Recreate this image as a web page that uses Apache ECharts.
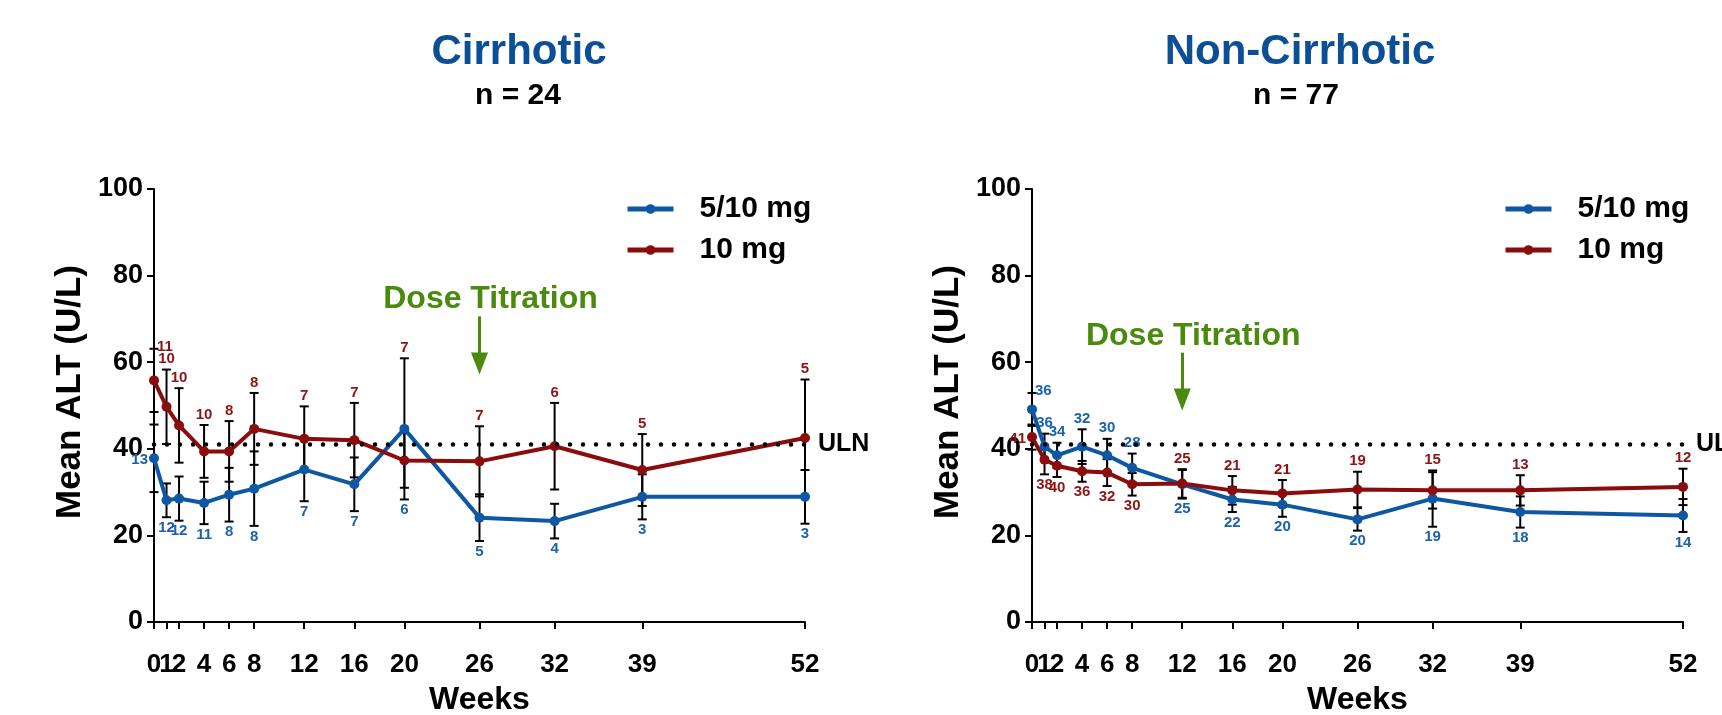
<!DOCTYPE html>
<html>
<head>
<meta charset="utf-8">
<script src="https://cdn.jsdelivr.net/npm/echarts@6.0.0/dist/echarts.min.js"></script>
<style>
  html, body { margin: 0; padding: 0; background: #fff; }
  #alt_chart { width: 1722px; height: 715px; }
</style>
</head>
<body>
<div id="alt_chart"></div>
<script>
var weeks = [0, 1, 2, 4, 6, 8, 12, 16, 20, 26, 32, 39, 52];

// Cirrhotic, n = 24
var cirrBlueMean = [37.8, 28.1, 28.5, 27.5, 29.4, 30.8, 35.2, 31.8, 44.6, 24.1, 23.3, 28.9, 28.9];
var cirrBlueSem  = [7.8, 3.9, 5.1, 4.9, 6.2, 8.6, 7.3, 6.2, 16.3, 5.4, 4.0, 5.2, 6.2];
var cirrBlueN    = [13, 12, 12, 11, 8, 8, 7, 7, 6, 5, 4, 3, 3];
var cirrRedMean  = [55.8, 49.7, 45.4, 39.4, 39.4, 44.6, 42.3, 42.0, 37.3, 37.1, 40.6, 35.1, 42.5];
var cirrRedSem   = [7.3, 8.6, 8.6, 6.1, 7.0, 8.3, 7.5, 8.6, 6.3, 8.1, 10.0, 8.3, 13.5];
var cirrRedN     = [11, 10, 10, 10, 8, 8, 7, 7, 7, 7, 6, 5, 5];

// Non-Cirrhotic, n = 77
var nonBlueMean = [49.1, 40.5, 38.5, 40.5, 38.5, 35.6, 31.8, 28.3, 27.1, 23.7, 28.5, 25.4, 24.6];
var nonBlueSem  = [3.8, 3.0, 2.9, 4.0, 3.8, 3.3, 3.3, 2.9, 2.8, 2.6, 6.5, 3.6, 3.8];
var nonBlueN    = [36, 36, 34, 32, 30, 28, 25, 22, 20, 20, 19, 18, 14];
var nonRedMean  = [42.7, 37.5, 36.1, 34.8, 34.5, 31.8, 32.0, 30.4, 29.7, 30.6, 30.4, 30.4, 31.2];
var nonRedSem   = [2.9, 3.4, 2.6, 2.4, 3.1, 2.6, 3.3, 3.3, 3.1, 4.1, 4.2, 3.5, 4.2];
var nonRedN     = [41, 38, 40, 36, 32, 30, 25, 21, 21, 19, 15, 13, 12];

var seriesNames = ['5/10 mg', '10 mg'];
var uln = 41;

var FONT = '"Liberation Sans", Arial, sans-serif';
var BLUE = '#0e58a3', RED = '#8b0c0c';
var BLUE_TXT = '#1a62b0', RED_TXT = '#8e1414';
var GREEN = '#4a8a0c';

var panels = [
    {
        title: 'Cirrhotic', sub: 'n = 24', titleX: 519, subX: 518, left: 154, legendLeft: 625,
        blue: [cirrBlueMean, cirrBlueSem, cirrBlueN], red: [cirrRedMean, cirrRedSem, cirrRedN],
        redOnTop: true, dose: {week: 26, from: 70.6, to: 59.7}
    },
    {
        title: 'Non-Cirrhotic', sub: 'n = 77', titleX: 1300, subX: 1296, left: 1032, legendLeft: 1503,
        blue: [nonBlueMean, nonBlueSem, nonBlueN], red: [nonRedMean, nonRedSem, nonRedN],
        redOnTop: false, dose: {week: 12, from: 62.2, to: 51.4}
    }
];

// rows for the error-bar series: [week, mean, sem, n, onTop, labelAnchor]
function errRows(own, other, isRed, redOnTop) {
    return weeks.map(function (w, i) {
        var hi = Math.max(own[0][i] + own[1][i], other[0][i] + other[1][i]);
        var lo = Math.min(own[0][i] - own[1][i], other[0][i] - other[1][i]);
        var top = redOnTop ? isRed : own[0][i] >= other[0][i];
        return [w, own[0][i], own[1][i], own[2][i], top ? 1 : 0, top ? hi : lo];
    });
}

function errRender(txtColor) {
    return function (params, api) {
        var x = api.value(0), m = api.value(1), s = api.value(2);
        var p1 = api.coord([x, m + s]);
        var p2 = api.coord([x, m - s]);
        var pm = api.coord([x, m]);
        var pl = api.coord([x, api.value(5)]);
        var w = 4.5;
        var st = {stroke: '#000', lineWidth: 2};
        var onTop = api.value(4) === 1;
        var tx, ty, align, valign;
        if (params.dataIndex === 0) {
            if (onTop) { tx = pl[0] + 3; ty = pl[1] - 2; align = 'left'; }
            else { tx = pm[0] - 6; ty = pm[1] + 2; align = 'right'; }
            valign = 'middle';
        } else {
            tx = pl[0]; align = 'center';
            if (onTop) { ty = pl[1] - 3; valign = 'bottom'; }
            else { ty = pl[1] + 3; valign = 'top'; }
        }
        return {
            type: 'group',
            children: [
                {type: 'line', shape: {x1: p1[0], y1: p1[1], x2: p2[0], y2: p2[1]}, style: st},
                {type: 'line', shape: {x1: p1[0] - w, y1: p1[1], x2: p1[0] + w, y2: p1[1]}, style: st},
                {type: 'line', shape: {x1: p2[0] - w, y1: p2[1], x2: p2[0] + w, y2: p2[1]}, style: st},
                {type: 'text', x: tx, y: ty, style: {
                    text: String(api.value(3)), fill: txtColor, align: align, verticalAlign: valign,
                    font: 'bold 15px ' + FONT
                }}
            ]
        };
    };
}

var option = {
    animation: false,
    backgroundColor: '#fff',
    textStyle: {fontFamily: FONT},
    title: [], legend: [], grid: [], xAxis: [], yAxis: [], series: []
};

var xLabelStyle = {fontSize: 26, fontWeight: 'bold', color: '#000', margin: 30, fontFamily: FONT};

panels.forEach(function (p, k) {
    option.title.push({
        text: p.title, left: p.titleX, top: 31, textAlign: 'center', padding: 0,
        textStyle: {fontSize: 42, fontWeight: 'bold', color: '#0b4f96', fontFamily: FONT}
    });
    option.title.push({
        text: p.sub, left: p.subX, top: 81, textAlign: 'center', padding: 0,
        textStyle: {fontSize: 30, fontWeight: 'bold', color: '#000', fontFamily: FONT}
    });
    option.legend.push({
        data: seriesNames, orient: 'vertical', left: p.legendLeft, top: 194, padding: 0,
        itemWidth: 46, itemHeight: 12, itemGap: 11,
        lineStyle: {width: 5},
        textStyle: {fontSize: 30, fontWeight: 'bold', color: '#000', lineHeight: 30, padding: [0, 0, 0, 21], fontFamily: FONT}
    });
    option.grid.push({left: p.left, top: 189, width: 651, height: 433, outerBoundsMode: 'none'});

    // main week axis (labels for every week but 1, which would be hidden as an overlap)
    option.xAxis.push({
        gridIndex: k, type: 'value', min: 0, max: 52, position: 'bottom',
        name: 'Weeks', nameLocation: 'middle', nameGap: 62,
        nameTextStyle: {fontSize: 32, fontWeight: 'bold', color: '#000', fontFamily: FONT},
        axisLine: {show: true, onZero: false, lineStyle: {color: '#000', width: 2}},
        axisTick: {show: true, customValues: weeks, length: 7, lineStyle: {color: '#000', width: 2}},
        axisLabel: Object.assign({customValues: weeks.filter(function (w) { return w !== 1; }),
                                  showMinLabel: true, hideOverlap: false}, xLabelStyle),
        splitLine: {show: false}
    });
    // companion axis carrying only the week-1 label
    option.xAxis.push({
        gridIndex: k, type: 'value', min: 0, max: 52, position: 'bottom',
        axisLine: {show: false}, axisTick: {show: false}, splitLine: {show: false},
        axisLabel: Object.assign({customValues: [1], showMinLabel: false}, xLabelStyle)
    });
    option.yAxis.push({
        gridIndex: k, type: 'value', min: 0, max: 100, interval: 20,
        name: 'Mean ALT (U/L)', nameLocation: 'middle', nameGap: 66,
        nameTextStyle: {fontSize: 35, fontWeight: 'bold', color: '#000', fontFamily: FONT, padding: [0, 0, 0, 27]},
        axisLine: {show: true, lineStyle: {color: '#000', width: 2}},
        axisTick: {show: true, length: 7, lineStyle: {color: '#000', width: 2}},
        axisLabel: {fontSize: 27, fontWeight: 'bold', color: '#000', margin: 11, fontFamily: FONT},
        splitLine: {show: false}
    });

    var xi = 2 * k;
    var sets = [
        {name: seriesNames[0], d: p.blue, other: p.red, color: BLUE, txt: BLUE_TXT, isRed: false},
        {name: seriesNames[1], d: p.red, other: p.blue, color: RED, txt: RED_TXT, isRed: true}
    ];
    sets.forEach(function (s) {
        option.series.push({
            name: 'err', type: 'custom', xAxisIndex: xi, yAxisIndex: k, z: 2, silent: true,
            data: errRows(s.d, s.other, s.isRed, p.redOnTop),
            encode: {x: 0, y: 1},
            renderItem: errRender(s.txt)
        });
    });
    sets.forEach(function (s) {
        var line = {
            name: s.name, type: 'line', xAxisIndex: xi, yAxisIndex: k, z: 3,
            data: weeks.map(function (w, i) { return [w, s.d[0][i]]; }),
            symbol: 'circle', symbolSize: 10, showSymbol: true,
            lineStyle: {color: s.color, width: 4},
            itemStyle: {color: s.color},
            emphasis: {disabled: true}
        };
        if (s.isRed) {
            line.markLine = {
                silent: true, symbol: 'none', animation: false,
                data: [
                    [
                        {coord: [0, uln], symbol: 'none',
                         lineStyle: {color: '#000', width: 4.5, type: [0, 13], cap: 'round'},
                         label: {show: true, position: 'end', formatter: 'ULN', distance: 13,
                                 fontSize: 25, fontWeight: 'bold', color: '#000', fontFamily: FONT}},
                        {coord: [52, uln], symbol: 'none'}
                    ],
                    [
                        {coord: [p.dose.week, p.dose.from], symbol: 'none',
                         lineStyle: {color: GREEN, width: 3, type: 'solid'},
                         label: {show: true, position: 'start', formatter: 'Dose Titration', distance: 1,
                                 padding: [0, 0, 0, 22],
                                 fontSize: 32, fontWeight: 'bold', color: GREEN, fontFamily: FONT}},
                        {coord: [p.dose.week, p.dose.to], symbol: 'triangle', symbolSize: [17, 22]}
                    ]
                ]
            };
        }
        option.series.push(line);
    });
});

var chart = echarts.init(document.getElementById('alt_chart'));
chart.setOption(option);
</script>
</body>
</html>
